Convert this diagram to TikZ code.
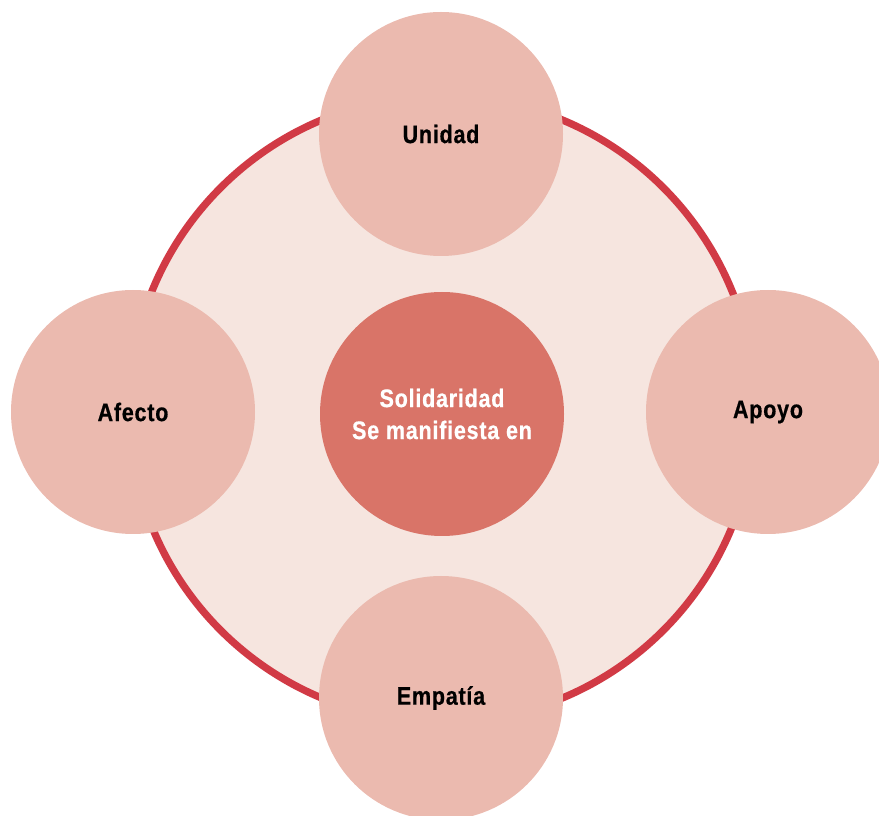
\documentclass[tikz,border=0pt]{standalone}
\usepackage{fontspec}
\newfontfamily\diagfont{Liberation Sans}[FakeStretch=0.85,LetterSpace=3,FakeBold=0.6]
\usetikzlibrary{positioning}

\definecolor{ringred}{HTML}{D13A45}
\definecolor{ringfill}{HTML}{F6E5DF}
\definecolor{petal}{HTML}{EBBAAF}
\definecolor{corefill}{HTML}{D97468}

\tikzset{
  petalnode/.style={circle, fill=petal, minimum size=183pt, inner sep=0pt,
    font=\diagfont\bfseries\fontsize{19}{24}\selectfont, text=black},
  corenode/.style={petalnode, fill=corefill, text=white, align=center},
  ringnode/.style={circle, draw=ringred, line width=5.5pt, fill=ringfill,
    minimum size=469.5pt, inner sep=0pt}
}

\begin{document}
\begin{tikzpicture}[x=0.75pt, y=-0.75pt]
\useasboundingbox (0,0) rectangle (879,816);
% outer ring
\node[ringnode] (ring) at (442,409) {};
% centre
\node[corenode] (core) at (442,414) {Solidaridad\\Se manifiesta en};
% the four petals
\node[petalnode] (unidad) at (441,134) {Unidad};
\node[petalnode] (afecto) at (133,412) {Afecto};
\node[petalnode] (apoyo) at (768,412) {Apoyo};
\node[petalnode] (empatia) at (441,698) {Empatía};
\end{tikzpicture}
\end{document}
